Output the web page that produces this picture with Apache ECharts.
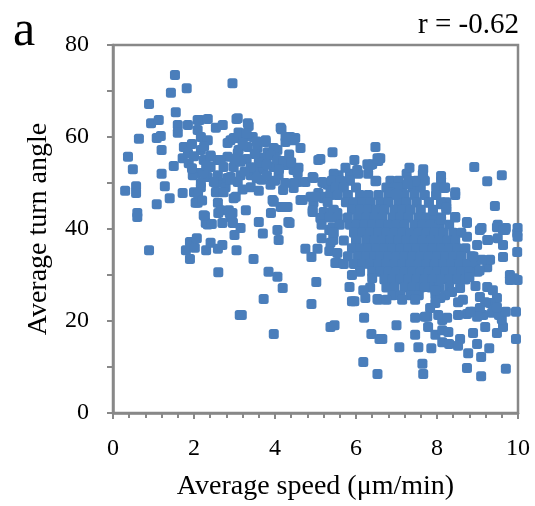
<!DOCTYPE html>
<html>
<head>
<meta charset="utf-8">
<script src="https://cdn.jsdelivr.net/npm/echarts@6/dist/echarts.min.js"></script>
<style>
  html, body { margin: 0; padding: 0; background: #fff; }
  #scatterChart { width: 535px; height: 506px; }
</style>
</head>
<body>
<div id="scatterChart"></div>
<script>
    // cells slower than ~2.5 um/min
    var slowCells = [
        [0.3, 48.3], [0.37, 55.7], [0.49, 53.0], [0.57, 49.3], [0.57, 47.8], [0.6, 43.5], [0.6, 42.6], [0.64, 59.6],
        [0.89, 67.2], [0.89, 35.4], [0.94, 63.0], [1.08, 59.8], [1.08, 45.4], [1.13, 63.7], [1.18, 60.2], [1.2, 57.2],
        [1.2, 52.0], [1.28, 49.3], [1.4, 46.7], [1.43, 69.6], [1.5, 53.7], [1.53, 73.5], [1.55, 65.4], [1.6, 62.6],
        [1.6, 60.9], [1.72, 47.8], [1.8, 35.4], [1.82, 70.6], [1.85, 62.6], [1.9, 37.2], [1.9, 33.5], [2.02, 35.9],
        [2.07, 38.0], [2.09, 45.7], [2.14, 63.7], [2.27, 42.8], [2.29, 41.3], [2.3, 35.4], [2.34, 63.9], [2.34, 41.0],
        [2.41, 37.0], [2.44, 41.1], [2.09, 61.5], [2.17, 60.0], [1.75, 57.8], [1.72, 55.4], [1.85, 56.5], [1.87, 54.3],
        [2.17, 57.2], [2.34, 59.3], [2.24, 55.0], [2.41, 56.0], [2.09, 52.2], [1.97, 51.7], [2.34, 51.3], [2.17, 49.1],
        [2.09, 63.7], [2.41, 55.7], [2.41, 53.5], [2.24, 52.2], [2.17, 50.0], [2.0, 48.0], [2.04, 45.7], [2.24, 43.0],
        [1.95, 58.5], [2.0, 55.8], [2.25, 58.0], [2.3, 53.8], [1.95, 53.2], [2.1, 47.6], [2.2, 46.2]
    ];

    // 2.5 - 5.6 um/min
    var midCells = [
        [2.54, 62.0], [2.71, 62.6], [2.95, 71.7], [3.05, 63.9], [3.33, 63.0], [3.35, 62.4], [3.08, 64.1],
        [2.59, 55.0], [2.54, 50.0], [2.73, 50.0], [2.9, 51.3], [2.98, 53.5], [2.83, 55.7], [2.9, 59.3], [3.03, 59.8],
        [3.08, 56.5], [2.78, 49.1], [2.66, 55.0], [2.73, 53.5], [2.59, 51.7], [2.49, 50.2], [2.83, 51.1], [2.83, 58.7],
        [2.98, 59.8], [3.23, 60.0], [3.45, 60.0], [3.1, 57.2], [3.33, 57.8], [3.57, 57.6], [3.77, 58.9], [3.82, 56.7],
        [4.06, 57.2], [4.14, 62.0], [4.16, 61.7], [4.38, 60.0], [4.5, 59.8], [4.26, 58.9], [4.46, 59.3], [4.26, 60.0],
        [3.77, 59.3], [3.97, 57.6], [4.63, 57.6], [5.42, 56.7], [5.07, 55.0], [5.12, 55.2],
        [3.15, 51.7], [3.4, 51.7], [3.57, 52.8], [3.72, 53.3], [3.97, 53.5], [4.26, 53.9], [4.09, 51.7], [3.67, 50.7],
        [3.89, 49.6], [3.4, 49.1], [3.08, 50.2], [2.9, 50.7], [4.46, 52.8], [4.56, 50.2], [4.46, 48.9], [4.58, 53.3],
        [4.56, 52.2], [4.75, 50.2], [4.95, 51.1], [5.17, 50.2], [5.3, 49.6], [5.54, 51.1], [5.54, 49.6], [4.93, 51.3],
        [5.2, 50.0], [5.57, 51.7], [5.62, 50.0], [4.46, 50.0],
        [2.54, 48.0], [2.73, 48.0], [2.98, 46.7], [2.59, 45.7], [2.66, 44.1], [2.86, 44.1], [2.9, 42.6], [3.28, 44.1],
        [3.03, 47.0], [2.95, 43.5], [2.95, 41.5], [3.6, 41.5], [4.33, 41.5], [3.94, 46.3], [4.14, 44.8], [4.31, 44.8],
        [4.63, 46.3], [4.88, 47.0], [4.95, 45.7], [5.2, 46.7], [5.37, 47.4], [5.49, 48.0], [4.93, 44.1], [5.2, 43.7],
        [5.44, 44.1], [5.07, 47.8], [5.0, 47.0], [4.93, 43.7], [4.68, 46.3], [3.97, 45.9], [3.9, 43.5], [5.37, 43.5],
        [5.54, 43.5], [5.12, 42.4], [5.25, 47.0], [5.37, 47.8], [5.54, 47.8], [4.26, 44.8],
        [2.6, 43.5], [2.88, 43.5], [2.7, 41.3], [2.96, 41.3], [2.6, 30.6], [2.59, 35.7], [2.7, 36.5], [3.0, 38.7],
        [3.05, 35.4], [3.13, 21.3], [3.15, 40.2], [3.7, 39.0], [4.06, 39.8], [4.09, 37.6], [4.36, 41.3], [3.47, 33.5],
        [3.84, 30.7], [4.06, 29.6], [4.19, 27.2], [3.72, 24.8], [3.18, 21.3], [3.97, 17.2], [4.75, 35.7], [5.05, 35.7],
        [4.9, 33.9], [5.02, 28.5], [4.9, 23.7], [5.15, 38.0], [5.34, 39.8], [5.44, 39.1], [5.37, 37.0], [5.34, 35.2],
        [5.54, 32.6], [5.37, 18.7], [5.47, 19.1], [5.42, 40.4], [5.44, 37.6], [5.54, 34.8], [5.49, 32.6],
        [3.7, 55.5], [3.9, 56.0], [4.05, 55.0], [4.2, 54.8], [4.35, 56.2], [3.6, 54.5], [3.8, 54.0], [4.1, 53.0],
        [4.4, 54.5], [3.5, 56.3], [3.3, 55.2], [3.15, 54.6], [3.4, 53.4], [3.0, 55.2], [3.25, 52.5], [3.55, 51.0],
        [3.8, 51.6], [4.0, 50.5], [4.25, 50.0], [4.2, 48.5], [3.6, 48.3], [3.2, 48.6],
        [3.1, 61.0], [3.3, 60.8], [3.55, 59.0], [3.2, 58.5]
    ];

    // dense cloud of fast cells, read row by row: [turn angle, speeds]
    var coreRows = [
        [52.0, [5.45, 5.85, 6.05, 6.3, 7.25, 7.65]],
        [50.5, [5.4, 5.62, 5.85, 6.5, 6.85, 7.05, 7.3, 7.5, 7.7, 8.1]],
        [49.0, [5.5, 5.7, 6.0, 6.75, 6.95, 7.15, 7.4, 7.6, 7.98, 8.2]],
        [47.4, [5.55, 5.8, 6.1, 6.3, 6.55, 6.8, 7.0, 7.2, 7.45, 7.7, 7.98, 8.45]],
        [45.8, [5.3, 5.75, 5.95, 6.15, 6.35, 6.6, 6.8, 7.05, 7.25, 7.5, 7.8, 8.1, 8.23]],
        [44.2, [5.45, 5.9, 6.1, 6.3, 6.5, 6.7, 6.95, 7.15, 7.35, 7.6, 7.9, 8.23]],
        [42.5, [5.35, 5.55, 5.8, 6.05, 6.25, 6.45, 6.65, 6.9, 7.1, 7.3, 7.55, 7.75, 7.95, 8.1, 8.45]],
        [40.9, [5.15, 5.6, 5.85, 6.0, 6.2, 6.4, 6.6, 6.8, 7.0, 7.2, 7.45, 7.65, 7.85, 8.05, 8.3]],
        [39.2, [5.45, 5.95, 6.15, 6.35, 6.55, 6.75, 6.95, 7.15, 7.35, 7.55, 7.75, 7.95, 8.15, 8.4, 8.6]],
        [37.5, [5.7, 6.0, 6.25, 6.45, 6.65, 6.85, 7.05, 7.25, 7.45, 7.65, 7.85, 8.05, 8.25, 8.45]],
        [35.8, [5.9, 6.1, 6.3, 6.5, 6.7, 6.9, 7.1, 7.3, 7.5, 7.7, 7.9, 8.1, 8.3, 8.5, 8.7]],
        [34.1, [5.8, 6.05, 6.25, 6.45, 6.6, 6.8, 7.0, 7.2, 7.4, 7.6, 7.8, 8.0, 8.2, 8.4, 8.6, 8.85]],
        [32.4, [5.7, 5.95, 6.15, 6.35, 6.55, 6.75, 6.95, 7.15, 7.35, 7.55, 7.75, 7.95, 8.15, 8.35, 8.55, 8.75, 8.95]],
        [30.7, [6.1, 6.4, 6.6, 6.8, 7.0, 7.2, 7.4, 7.6, 7.8, 8.0, 8.2, 8.4, 8.6, 8.8, 9.0]],
        [29.0, [6.7, 6.9, 7.1, 7.3, 7.5, 7.7, 7.9, 8.1, 8.3, 8.5, 8.7]],
        [27.3, [6.35, 6.75, 6.95, 7.2, 7.4, 7.6, 7.85, 8.05, 8.3]],
        [25.6, [6.9, 7.1, 7.35, 7.55, 7.96]]
    ];

    // scattered fast cells around the cloud
    var fastCells = [
        [6.48, 57.8], [6.6, 55.4], [6.55, 54.8], [6.4, 54.1], [7.32, 53.3], [7.66, 53.0], [8.92, 53.5], [9.6, 51.7],
        [9.24, 50.4], [8.1, 51.5], [7.66, 51.1], [7.46, 50.4], [7.27, 49.8], [7.02, 49.1], [6.85, 48.0], [7.0, 47.6],
        [6.48, 50.4], [8.18, 48.9], [8.45, 48.0], [7.98, 47.4], [8.1, 45.4], [8.23, 44.6], [7.8, 45.7], [7.9, 44.1],
        [9.43, 45.0], [8.45, 42.6], [8.74, 41.5], [8.1, 42.0], [9.5, 40.9], [9.1, 40.2], [9.7, 40.2], [9.99, 40.2],
        [5.74, 53.3], [6.03, 52.8], [6.28, 54.1], [6.35, 53.9], [5.96, 55.0], [6.53, 55.4],
        [5.9, 30.0], [5.84, 27.4], [5.9, 24.3], [5.96, 24.3], [6.18, 26.7], [6.23, 25.0], [6.53, 24.8], [6.2, 20.7],
        [6.38, 17.2], [6.58, 16.1], [6.18, 11.1], [6.53, 8.5], [7.64, 10.7], [7.66, 8.5], [8.74, 9.8], [9.09, 8.0],
        [9.7, 9.6], [7.07, 14.3], [7.54, 14.3], [7.86, 14.1], [6.65, 16.1], [7.0, 19.1], [7.46, 17.0], [7.46, 20.7],
        [7.76, 20.9], [7.78, 18.7], [7.96, 17.0], [8.13, 15.4], [8.3, 15.0], [8.13, 20.2], [8.13, 18.0], [8.28, 17.6],
        [8.57, 16.1], [8.52, 14.6], [8.77, 13.0], [9.09, 12.2], [8.99, 15.0], [9.29, 14.1], [9.48, 17.4], [9.63, 18.7],
        [9.6, 20.4], [9.95, 16.1], [9.95, 22.0], [8.89, 17.4], [9.19, 18.7], [8.74, 21.5], [8.89, 22.0], [9.14, 21.3],
        [9.36, 21.8], [9.53, 21.3], [9.7, 22.0],
        [9.98, 35.0], [9.98, 39.1], [9.99, 28.9], [9.8, 30.0], [9.9, 29.3], [9.63, 33.9], [9.48, 40.4], [9.63, 39.8],
        [9.5, 38.0], [9.63, 36.5], [9.24, 37.6], [9.06, 39.8], [8.74, 41.3], [8.74, 38.3], [8.99, 36.5], [9.24, 31.7],
        [9.31, 33.3], [9.11, 33.3], [9.24, 27.4], [9.38, 26.7], [9.48, 25.0], [9.31, 23.9], [9.48, 23.0], [9.06, 25.2],
        [9.19, 24.1], [9.06, 22.8], [8.99, 20.9], [8.64, 24.6], [8.52, 24.1], [8.82, 22.0], [8.57, 27.2], [8.37, 26.3],
        [8.2, 25.6], [8.08, 25.0], [7.96, 23.9], [7.83, 22.8], [7.7, 20.9], [8.03, 21.3], [8.25, 20.7], [8.52, 21.3],
        [7.46, 24.6], [7.14, 24.6], [6.55, 24.6], [6.75, 24.6], [7.7, 27.4], [7.96, 26.7], [6.4, 29.3],
        [9.68, 39.8], [9.99, 38.3], [9.26, 37.6], [9.8, 28.9], [8.9, 34.0], [9.05, 31.0], [8.8, 29.5], [8.95, 27.6]
    ];

    var xTicks = { min: 0, max: 10, step: 2 };
    var yTicks = { min: 0, max: 80, step: 20 };
    var corr = "r = -0.62";

    var points = slowCells.concat(midCells);
    coreRows.forEach(function (row) {
        row[1].forEach(function (sp) { points.push([sp, row[0]]); });
    });
    points = points.concat(fastCells);

    var serif = "'Liberation Serif', 'Times New Roman', serif";
    var axisGray = "#888888";

    var myChart = echarts.init(document.getElementById('scatterChart'), null, { renderer: 'canvas' });

    var option = {
        animation: false,
        backgroundColor: "#fff",
        title: [
            { text: "a", left: 8, top: 2, textStyle: { fontFamily: serif, fontSize: 50, fontWeight: 'normal', color: "#000" } },
            { text: corr, right: 11, top: 6, textStyle: { fontFamily: serif, fontSize: 29, fontWeight: 'normal', color: "#000" } }
        ],
        grid: {
            left: 113, right: 17, top: 45, bottom: 93,
            show: true, borderColor: axisGray, borderWidth: 2.5, backgroundColor: "#fff"
        },
        xAxis: {
            type: 'value',
            min: xTicks.min, max: xTicks.max, interval: xTicks.step,
            name: "Average speed (μm/min)",
            nameLocation: 'middle',
            nameGap: 60,
            nameTextStyle: { fontFamily: serif, fontSize: 28, color: "#000" },
            axisLine: { show: true, onZero: false, lineStyle: { color: axisGray, width: 2.5 } },
            axisTick: { show: true, length: 6, lineStyle: { color: axisGray, width: 2 } },
            minorTick: { show: true, splitNumber: 5, length: 5, lineStyle: { color: axisGray, width: 2 } },
            axisLabel: { margin: 24, fontFamily: serif, fontSize: 24, color: "#000" },
            splitLine: { show: false }
        },
        yAxis: {
            type: 'value',
            min: yTicks.min, max: yTicks.max, interval: yTicks.step,
            name: "Average turn angle",
            nameLocation: 'middle',
            nameGap: 60,
            nameTextStyle: { fontFamily: serif, fontSize: 28, color: "#000" },
            axisLine: { show: true, onZero: false, lineStyle: { color: axisGray, width: 2.5 } },
            axisTick: { show: true, length: 6, lineStyle: { color: axisGray, width: 2 } },
            minorTick: { show: true, splitNumber: 2, length: 6, lineStyle: { color: axisGray, width: 2 } },
            axisLabel: { margin: 24, fontFamily: serif, fontSize: 24, color: "#000" },
            splitLine: { show: false }
        },
        series: [{
            type: 'scatter',
            symbol: 'roundRect',
            symbolSize: 10,
            data: points,
            itemStyle: { color: "#4a7ebb", opacity: 1 }
        }]
    };

    myChart.setOption(option);
</script>
</body>
</html>
